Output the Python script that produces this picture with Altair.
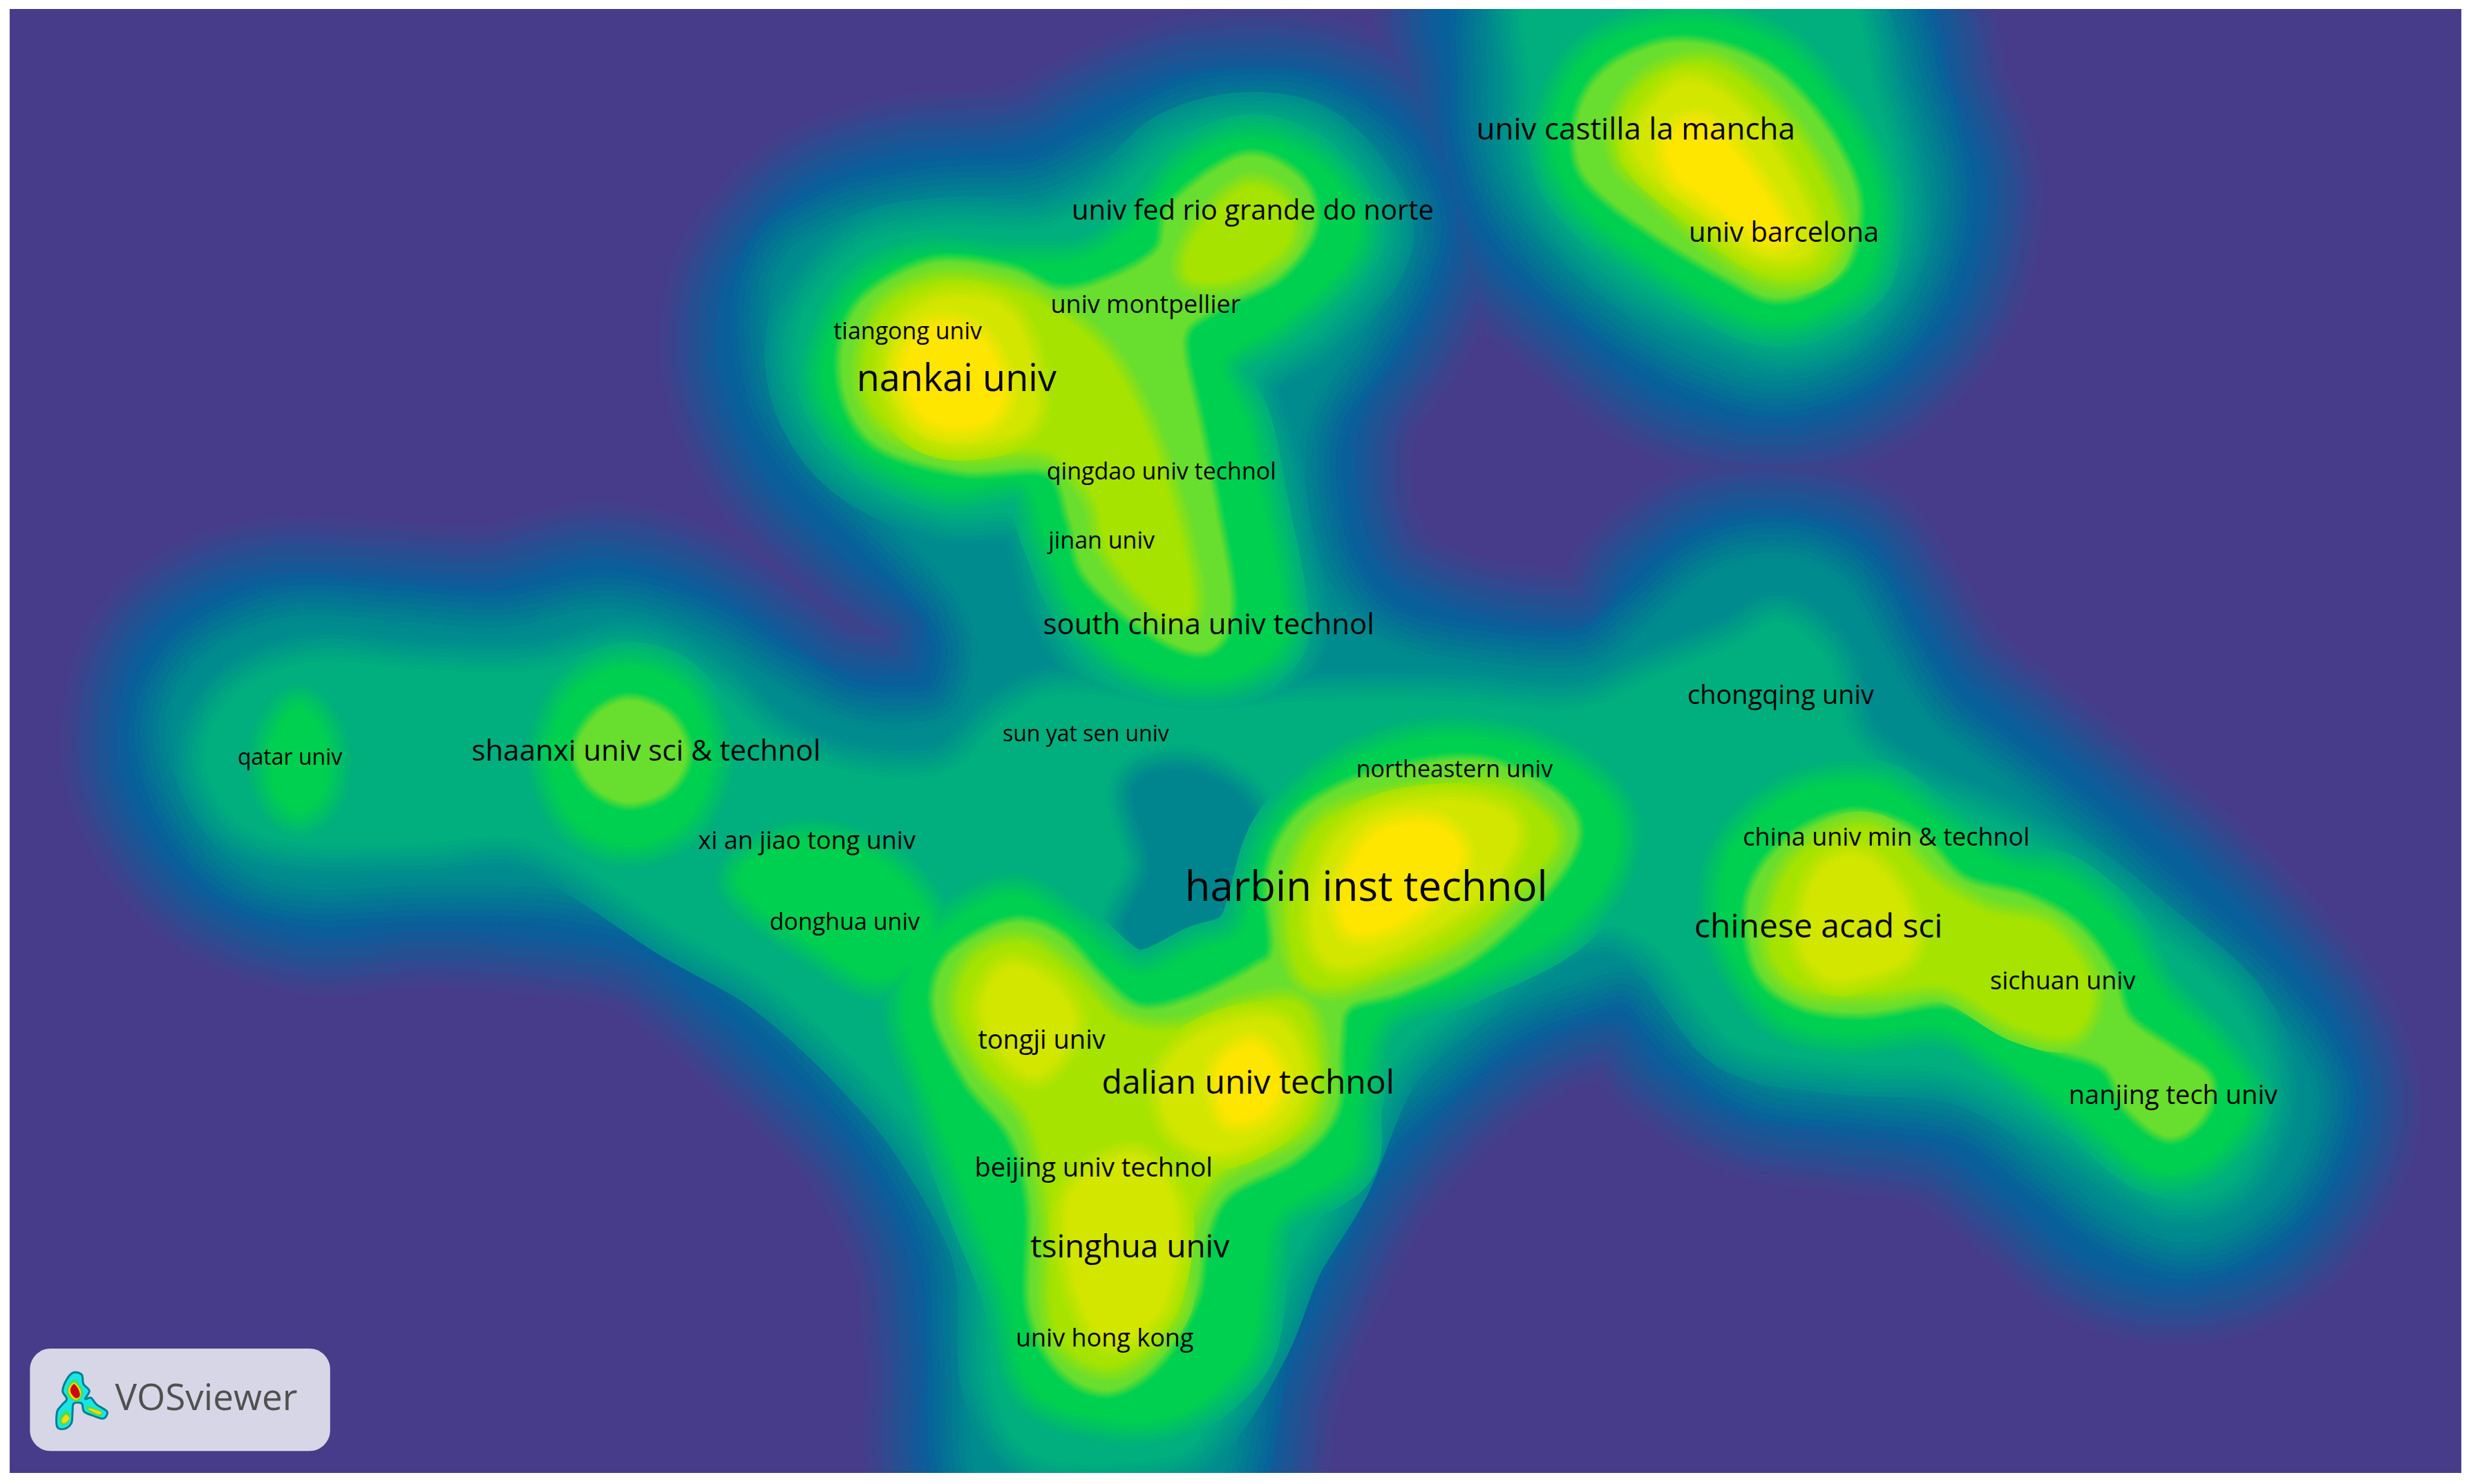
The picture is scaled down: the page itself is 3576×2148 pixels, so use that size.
import altair as alt
import pandas as pd

alt.data_transformers.disable_max_rows()

# ---------- density surface (x, y per ring) ----------
L1 = [
 [(470,170),(510,125),(570,103),(650,95),(700,70),(760,50),(830,50),(885,75),(915,120),(915,165),(890,215),(860,260),(855,310),(870,360),(905,385),(960,400),(1015,400),(1040,365),(1085,335),(1135,330),(1180,345),(1210,385),(1240,430),(1290,470),(1340,510),(1390,550),(1440,600),(1480,650),(1495,700),(1480,750),(1440,795),(1385,812),(1330,800),(1280,760),(1230,725),(1170,715),(1110,705),(1060,675),(1030,645),(990,650),(945,675),(905,710),(865,760),(830,830),(810,880),(790,950),(700,975),(600,950),(590,860),(580,790),(545,725),(490,670),(440,625),(400,600),(340,590),(270,585),(200,590),(140,570),(100,530),(80,480),(90,420),(125,385),(175,370),(240,372),(310,375),(380,360),(440,375),(490,405),(530,430),(580,432),(590,410),(585,385),(540,350),(490,300),(465,250),(460,210)],
 [(925,-10),(920,50),(925,110),(950,160),(1000,205),(1060,250),(1130,265),(1190,245),(1240,190),(1255,120),(1235,60),(1205,-10),(1065,-40)],
]
L2 = [
 [(495,175),(530,145),(590,130),(660,125),(710,100),(760,75),(820,72),(865,95),(890,135),(885,170),(860,215),(830,260),(825,310),(840,370),(880,410),(950,425),(1010,425),(1050,395),(1090,362),(1135,355),(1170,372),(1195,415),(1225,460),(1270,495),(1320,535),(1370,580),(1420,625),(1455,665),(1468,700),(1452,745),(1420,775),(1385,785),(1345,770),(1300,735),(1250,700),(1180,690),(1120,682),(1080,655),(1040,615),(1000,620),(950,640),(900,680),(860,720),(830,775),(795,840),(770,950),(700,975),(625,950),(615,860),(610,790),(575,720),(520,655),(465,605),(420,575),(350,560),(270,558),(190,560),(145,540),(115,495),(110,450),(135,415),(185,395),(250,398),(320,402),(385,390),(440,405),(490,435),(540,460),(600,458),(620,420),(610,380),(570,335),(520,285),(495,240)],
 [(960,-10),(948,50),(955,110),(985,155),(1030,195),(1080,225),(1130,238),(1180,220),(1215,175),(1225,120),(1210,60),(1180,-10),(1065,-40)],
]
L25 = [
 [(130,480),(150,440),(200,420),(270,425),(340,425),(400,412),(450,435),(490,470),(540,490),(600,490),(640,455),(680,440),(760,450),(830,445),(920,445),(1000,450),(1050,430),(1100,410),(1130,395),(1160,420),(1175,470),(1215,500),(1270,525),(1320,555),(1370,595),(1420,640),(1440,695),(1420,745),(1385,760),(1350,745),(1300,710),(1240,680),(1170,675),(1100,660),(1050,600),(1000,590),(920,640),(880,680),(850,750),(820,800),(800,850),(770,900),(740,925),(660,925),(630,880),(625,800),(590,730),(550,680),(490,625),(430,590),(340,535),(270,535),(190,535),(150,520)],
 [(505,225),(515,190),(550,155),(600,145),(660,145),(705,125),(745,90),(795,78),(840,90),(875,135),(870,170),(835,210),(795,240),(805,290),(815,350),(825,400),(800,440),(750,448),(700,430),(670,385),(650,330),(600,325),(545,300),(515,265)],
 [(975,-10),(970,50),(975,105),(1000,145),(1040,180),(1090,205),(1130,218),(1170,205),(1200,165),(1205,120),(1190,60),(1165,-10),(1065,-40)],
]
HOLE = [
 [(720,500),(755,490),(790,510),(800,550),(785,590),(745,610),(715,590),(730,550)],
]
L3 = [
 [(528,215),(550,180),(590,165),(640,168),(690,165),(725,140),(755,105),(795,90),(835,105),(860,140),(850,170),(810,205),(775,230),(790,270),(800,320),(810,370),(810,410),(770,430),(720,420),(685,385),(665,340),(650,305),(600,308),(550,285),(525,250)],
 [(790,590),(810,530),(850,490),(910,470),(975,478),(1020,510),(1022,550),(990,590),(930,620),(875,645),(860,700),(855,740),(810,770),(800,810),(790,860),(750,895),(705,900),(655,880),(640,820),(620,770),(590,690),(575,640),(590,600),(640,570),(680,590),(720,620),(760,605)],
 [(1095,590),(1100,540),(1140,505),(1190,500),(1230,525),(1270,550),(1310,560),(1345,590),(1370,630),(1405,665),(1425,700),(1400,735),(1365,740),(1320,705),(1270,670),(1230,650),(1170,655),(1125,640)],
 [(1050,18),(1090,17),(1130,32),(1155,58),(1178,92),(1190,130),(1183,175),(1150,198),(1120,202),(1085,187),(1050,165),(1010,135),(990,105),(990,70),(1010,35)],
 [(470,560),(510,535),(560,550),(590,590),(560,620),(520,600)],
 [(190,450),(205,470),(205,500),(190,515),(175,500),(175,470)],
 [(400,425),(435,440),(450,480),(435,520),(400,535),(365,520),(350,480),(365,440)],
]
L4 = [
 [(535,240),(545,195),(590,168),(640,172),(670,185),(700,180),(735,160),(745,130),(790,100),(825,115),(832,145),(810,175),(770,195),(750,215),(760,270),(770,320),(780,385),(765,412),(730,400),(690,365),(680,330),(665,298),(610,298),(555,280)],
 [(806,557),(821,522),(852,500),(895,487),(941,484),(984,503),(1000,529),(981,564),(935,606),(889,628),(855,638),(849,663),(846,705),(821,734),(778,757),(763,789),(757,824),(735,863),(704,882),(674,869),(655,831),(655,766),(643,721),(615,686),(595,644),(600,612),(624,593),(649,586),(674,596),(698,622),(723,641),(757,635),(797,615),(809,602)],
 [(1110,578),(1121,549),(1146,527),(1179,517),(1216,530),(1245,559),(1285,570),(1317,588),(1339,617),(1350,647),(1379,668),(1401,685),(1397,708),(1376,721),(1350,702),(1336,676),(1299,663),(1255,643),(1230,635),(1183,642),(1143,637),(1117,617)],
 [(1053,29),(1084,29),(1117,41),(1143,63),(1165,94),(1178,129),(1171,166),(1148,184),(1123,188),(1098,176),(1062,155),(1022,127),(1003,104),(1003,72),(1020,45)],
 [(400,445),(424,455),(435,478),(424,500),(400,509),(378,500),(366,478),(378,455)],
]
L5 = [
 [(550,240),(560,200),(595,180),(640,185),(670,200),(700,225),(725,270),(745,330),(755,385),(735,385),(705,350),(695,315),(665,285),(610,285),(565,270)],
 [(760,150),(790,120),(815,130),(815,155),(785,175),(755,175)],
 [(820,570),(835,530),(865,512),(940,500),(975,515),(985,535),(965,560),(925,595),(880,615),(845,625),(825,615)],
 [(610,640),(620,610),(650,600),(680,620),(710,650),(750,655),(790,640),(825,640),(835,680),(825,715),(770,745),(748,790),(745,830),(720,860),(695,865),(670,840),(668,770),(655,710),(625,675)],
 [(1125,600),(1135,555),(1165,530),(1195,530),(1225,560),(1260,580),(1300,590),(1325,625),(1315,655),(1280,650),(1235,625),(1190,628),(1145,625)],
 [(1030,75),(1050,50),(1085,42),(1120,65),(1150,105),(1165,145),(1155,170),(1125,175),(1090,155),(1050,120),(1030,100)],
]
L6 = [
 [(565,240),(575,205),(605,190),(640,200),(655,240),(650,270),(610,280),(580,270)],
 [(835,575),(850,535),(880,515),(930,510),(960,525),(945,560),(905,590),(860,610),(840,605)],
 [(740,680),(770,655),(810,650),(825,680),(815,710),(775,730),(745,715)],
 [(625,640),(640,615),(665,625),(680,650),(660,680),(640,670)],
 [(680,760),(720,735),(745,770),(735,830),(705,850),(685,820)],
 [(1145,590),(1155,555),(1180,545),(1205,570),(1210,605),(1170,620),(1150,610)],
 [(1040,85),(1065,55),(1090,60),(1120,90),(1145,135),(1145,160),(1115,160),(1075,130),(1045,105)],
]
L7 = [
 [(575,235),(590,210),(620,215),(635,250),(620,268),(590,265)],
 [(855,560),(875,530),(910,525),(925,545),(900,575),(870,590),(855,585)],
 [(775,680),(795,665),(810,685),(800,705),(780,708)],
 [(1060,90),(1080,80),(1105,105),(1130,145),(1120,150),(1085,125),(1065,110)],
]

# ring set, colour, colour just outside, soft-edge distance in px
BG = "#473c8a"
LEVELS = [
 (L1, "#08609a", BG, 95),
 (L2, "#008b8e", "#08609a", 62),
 (L25, "#00ae7e", "#008b8e", 45),
 (HOLE, "#00858f", "#00ae7e", 38),
 (L3, "#00d050", "#00ae7e", 40),
 (L4, "#68de2e", "#00d050", 14),
 (L5, "#a6e300", "#68de2e", 26),
 (L6, "#d2e600", "#a6e300", 28),
 (L7, "#ffe600", "#d2e600", 28),
]
STEPS = 7

# ---------- labels ----------
LABELS = ["harbin inst technol","nankai univ","dalian univ technol","chinese acad sci","tsinghua univ",
 "univ castilla la mancha","univ barcelona","univ fed rio grande do norte","south china univ technol",
 "shaanxi univ sci & technol","chongqing univ","northeastern univ","china univ min & technol","sichuan univ",
 "nanjing tech univ","tongji univ","beijing univ technol","univ hong kong","qingdao univ technol","jinan univ",
 "univ montpellier","tiangong univ","sun yat sen univ","xi an jiao tong univ","donghua univ","qatar univ"]
LABEL_X = [867,607,792,1154,717,1038,1132,795,767,410,1130,923,1197,1309,1379,661,694,701,737,699,727,576,689,512,536,184]
LABEL_Y = [564,241,688,589,792,83,148,134,397,477,442,489,532,623,696,661,742,850,300,344,194,211,466,534,586,481]
LABEL_SIZE = [60,54,48,48,46,44,40,40,42,42,38,34,36,36,38,38,38,36,34,34,36,34,32,36,34,32]

# ---------- VOSviewer badge ----------
LOGO_OUT = [(320,260),(355,270),(362,310),(388,340),(370,375),(395,370),(420,400),(465,430),(450,460),(410,450),(365,430),(355,395),(320,395),(315,430),(310,480),(280,505),(248,495),(248,430),(270,400),(290,375),(272,340),(290,290)]
LOGO_GREEN = [[(325,290),(350,320),(360,350),(340,385),(305,375),(290,345),(300,310)],[(375,405),(410,415),(445,435),(430,450),(385,430)],[(285,425),(305,445),(295,480),(270,490),(258,460)]]
LOGO_YEL = [[(322,305),(345,330),(350,360),(330,378),(305,360),(300,330)],[(285,445),(300,460),(280,480),(268,470)],[(385,418),(410,422),(440,435),(425,440)]]
LOGO_RED = [[(322,312),(340,335),(345,362),(328,370),(310,350),(308,330)]]

XS = alt.Scale(domain=[6.14, 1561.9], nice=False, zero=False)
YS = alt.Scale(domain=[934.9, 5.7], nice=False, zero=False)
X = alt.X("x:Q", scale=XS, axis=None)
Y = alt.Y("y:Q", scale=YS, axis=None)


def rings(rs):
    return pd.DataFrame([{"ring": r, "i": i, "x": p[0], "y": p[1]} for r, pts in enumerate(rs) for i, p in enumerate(pts)])


def mix(a, b, t):
    ca = [int(a[k:k + 2], 16) for k in (1, 3, 5)]
    cb = [int(b[k:k + 2], 16) for k in (1, 3, 5)]
    return "#%02x%02x%02x" % tuple(round(u + (v - u) * t) for u, v in zip(ca, cb))


def ring_layer(df, **mk):
    return alt.Chart(df).mark_line(interpolate="cardinal-closed", clip=True, strokeJoin="round", **mk).encode(
        x=X, y=Y, detail="ring:N", order="i:Q")


layers = []
for rs, col, outer, dist in LEVELS:
    df = rings(rs)
    for j in range(STEPS):
        t = (j + 0.5) / STEPS
        layers.append(ring_layer(df, stroke=mix(outer, col, t), strokeWidth=2 * dist * (1 - j / STEPS)))
    layers.append(ring_layer(df, stroke=col, strokeWidth=1, fill=col))

text_df = pd.DataFrame({"t": LABELS, "x": LABEL_X, "y": LABEL_Y, "s": LABEL_SIZE})
layers.append(alt.Chart(text_df).mark_text(font="Open Sans", color="#050505", align="center", baseline="middle").encode(
    x=X, y=Y, text="t:N", size=alt.Size("s:Q", scale=None, legend=None)))

# badge
layers.append(alt.Chart(pd.DataFrame({"x": [19], "x2": [209.5], "y": [856], "y2": [921]})).mark_rect(
    color="#d6d6e6", cornerRadius=30).encode(x=X, x2="x2:Q", y=Y, y2="y2:Q"))


def logo(rs):
    return rings([[(px * 0.14615, 833.1 + py * 0.14615) for px, py in r] for r in rs])


layers.append(ring_layer(logo([LOGO_OUT]), stroke="#0a7d94", strokeWidth=3, fill="#18e6e6"))
layers.append(ring_layer(logo(LOGO_GREEN), stroke="#40e080", strokeWidth=1, fill="#40e060"))
layers.append(ring_layer(logo(LOGO_YEL), stroke="#ffd800", strokeWidth=1, fill="#ffd800"))
layers.append(ring_layer(logo(LOGO_RED), stroke="#cc0808", strokeWidth=1, fill="#cc0808"))
layers.append(alt.Chart(pd.DataFrame({"t": ["VOSviewer"], "x": [73], "y": [888]})).mark_text(
    font="Open Sans", fontSize=53, color="#505050", align="left", baseline="middle").encode(x=X, y=Y, text="t:N"))

chart = alt.layer(*layers).properties(
    width=3548, height=2119, background="white",
    padding={"left": 6, "top": 5, "right": 0, "bottom": 0},
).configure_view(fill=BG, stroke=None)

chart.save("out.html", embed_options={"renderer": "svg", "actions": False})
